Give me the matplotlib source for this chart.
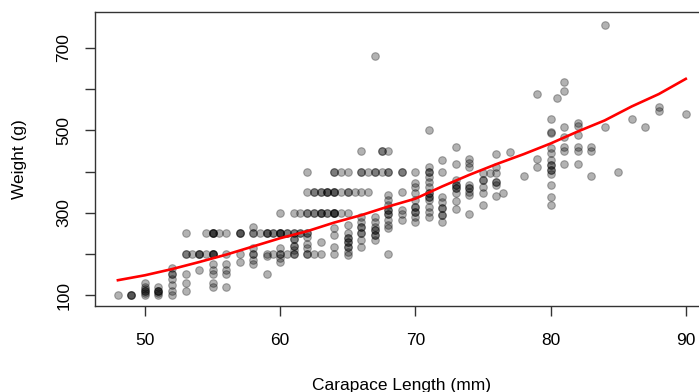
import matplotlib
matplotlib.use("Agg")
import matplotlib.pyplot as plt

plt.rcParams['font.family'] = ['Liberation Sans', 'DejaVu Sans']

# carapace length (mm) and weight (g)
length_mm = [
    48,
    49, 49,
    50, 50, 50, 50, 50, 50,
    51, 51, 51, 51, 51,
    52, 52, 52, 52, 52, 52,
    53, 53, 53, 53, 53,
    53.5,
    54, 54, 54,
    54.5, 54.5,
    55, 55, 55, 55, 55, 55, 55, 55, 55,
    55.5,
    56, 56, 56, 56, 56, 56,
    57, 57, 57, 57,
    58, 58, 58, 58, 58, 58,
    58.5,
    59, 59, 59, 59, 59,
    59.5, 59.5,
    60, 60, 60, 60, 60, 60, 60,
    60.5, 60.5,
    61, 61, 61, 61, 61, 61,
    61.5, 61.5,
    62, 62, 62, 62, 62, 62, 62, 62,
    62.5, 62.5, 62.5,
    63, 63, 63, 63,
    63.5, 63.5, 63.5,
    64, 64, 64, 64, 64, 64, 64, 64,
    64.5, 64.5, 64.5,
    65, 65, 65, 65, 65, 65, 65, 65, 65, 65,
    65.5,
    66, 66, 66, 66, 66, 66, 66, 66, 66,
    66.5, 66.5,
    67, 67, 67, 67, 67, 67, 67, 67,
    67.5, 67.5,
    68, 68, 68, 68, 68, 68, 68, 68, 68, 68, 68,
    69, 69, 69, 69, 69,
    70, 70, 70, 70, 70, 70, 70, 70, 70,
    71, 71, 71, 71, 71, 71, 71, 71, 71, 71, 71, 71,
    72, 72, 72, 72, 72, 72, 72,
    73, 73, 73, 73, 73, 73, 73, 73,
    74, 74, 74, 74, 74, 74, 74, 74,
    75, 75, 75, 75, 75,
    75.5,
    76, 76, 76, 76, 76, 76,
    76.5,
    77,
    78,
    79, 79, 79,
    80, 80, 80, 80, 80, 80, 80, 80, 80, 80, 80, 80,
    80.5,
    81, 81, 81, 81, 81, 81, 81,
    82, 82, 82, 82, 82, 82,
    83, 83, 83,
    84, 84,
    85,
    86,
    87,
    88, 88,
    90,
]
weight_g = [
    100,
    100, 100,
    100, 105, 110, 115, 120, 130,
    100, 105, 110, 110, 120,
    100, 110, 125, 140, 150, 165,
    110, 130, 150, 200, 250,
    200,
    160, 200, 200,
    200, 250,
    120, 130, 150, 160, 175, 200, 200, 250, 250,
    250,
    120, 150, 160, 175, 200, 250,
    180, 200, 250, 250,
    175, 185, 200, 215, 250, 265,
    250,
    150, 195, 200, 250, 250,
    200, 250,
    180, 190, 200, 215, 250, 250, 300,
    200, 250,
    200, 210, 220, 235, 250, 300,
    250, 300,
    200, 215, 225, 240, 250, 300, 350, 400,
    200, 300, 350,
    200, 230, 300, 350,
    300, 350, 350,
    200, 217, 246, 263, 300, 300, 350, 400,
    300, 350, 400,
    197, 205, 217, 229, 238, 251, 270, 300, 350, 400,
    350,
    217, 234, 250, 266, 278, 290, 350, 400, 450,
    350, 400,
    234, 246, 258, 266, 278, 290, 400, 680,
    400, 450,
    200, 262, 270, 282, 298, 306, 319, 331, 343, 400, 450,
    282, 298, 306, 351, 400,
    278, 290, 302, 315, 331, 347, 363, 371, 400,
    290, 302, 315, 331, 339, 347, 363, 375, 387, 400, 412, 500,
    278, 294, 311, 327, 339, 400, 428,
    310, 329, 349, 359, 367, 379, 418, 459,
    298, 343, 351, 360, 367, 412, 420, 430,
    319, 348, 363, 379, 396,
    396,
    340, 367, 375, 396, 412, 443,
    349,
    448,
    390,
    410, 430, 588,
    319, 339, 367, 395, 403, 416, 428, 444, 456, 493, 497, 527,
    578,
    418, 451, 459, 485, 509, 596, 618,
    418, 451, 459, 489, 511, 519,
    390, 451, 459,
    509, 756,
    398,
    527,
    509,
    546, 557,
    540,
]

# repeated observations (the darker spots where points stack)
repeat_len = [
    55, 55, 57, 58, 59, 59.5, 60, 60, 60.5, 61, 61.5, 62,
    53, 54, 55, 55, 58, 60, 61, 62,
    62, 62.5, 63, 63, 63.5, 64, 64,
    62.5, 63, 63.5, 64, 64, 65,
    64, 66, 67, 68, 69, 71, 67.5,
    61, 61, 65, 65, 65, 67, 67, 68, 68, 70, 70, 71, 71, 72,
    73, 73, 74, 75, 76, 80, 80, 72, 51, 49, 50, 52, 66, 66,
]
repeat_wt = [
    250, 250, 250, 250, 250, 250, 250, 250, 250, 250, 250, 250,
    200, 200, 200, 200, 200, 200, 200, 200,
    300, 300, 300, 300, 300, 300, 300,
    350, 350, 350, 350, 350, 350,
    400, 400, 400, 400, 400, 400, 450,
    220, 235, 217, 229, 238, 246, 258, 306, 298, 302, 315, 347, 339, 294,
    359, 367, 360, 379, 375, 416, 403, 311, 110, 100, 110, 150, 250, 266,
]

# smooth curve drawn over the points
fit_len = [48, 50, 52, 54, 56, 58, 60, 62, 64, 66, 68, 70, 72, 74, 76, 78, 80, 82, 84, 86, 88, 90]
fit_wt = [136, 148, 163, 180, 198, 218, 238, 255, 276, 294, 315, 334, 364, 392, 418, 442, 468, 497, 524, 558, 588, 625]

x_ticks = [50, 60, 70, 80, 90]
y_ticks = [100, 200, 300, 400, 500, 600, 700]
y_ticklabels = ['100', '', '300', '', '500', '', '700']

fig = plt.figure(figsize=(6.99, 3.92), dpi=100)
ax = fig.add_axes([95.2 / 699, 86.1 / 392, 613.3 / 699, 293.5 / 392])

pt_color = (0, 0, 0, 0.3)
ax.scatter(length_mm + repeat_len, weight_g + repeat_wt, s=30,
           facecolors=pt_color, edgecolors=pt_color, linewidths=0.8, zorder=2)
ax.plot(fit_len, fit_wt, color='red', lw=1.9, zorder=3)

ax.set_xlim(46.32, 91.68)
ax.set_ylim(73.6, 786.4)
ax.set_xticks(x_ticks)
ax.set_yticks(y_ticks)
ax.set_yticklabels(y_ticklabels, rotation=90, va='center')

for sp in ax.spines.values():
    sp.set_color('#333333')
    sp.set_linewidth(1.0)
ax.tick_params(length=7.2, width=1.0, color='#333333', labelsize=12.5)
ax.tick_params(axis='x', pad=12)
ax.tick_params(axis='y', pad=10)

ax.set_xlabel('Carapace Length (mm)', fontsize=12.5, labelpad=22)
ax.set_ylabel('Weight (g)', fontsize=12.5, labelpad=21)

fig.savefig('out.png', dpi=100)
